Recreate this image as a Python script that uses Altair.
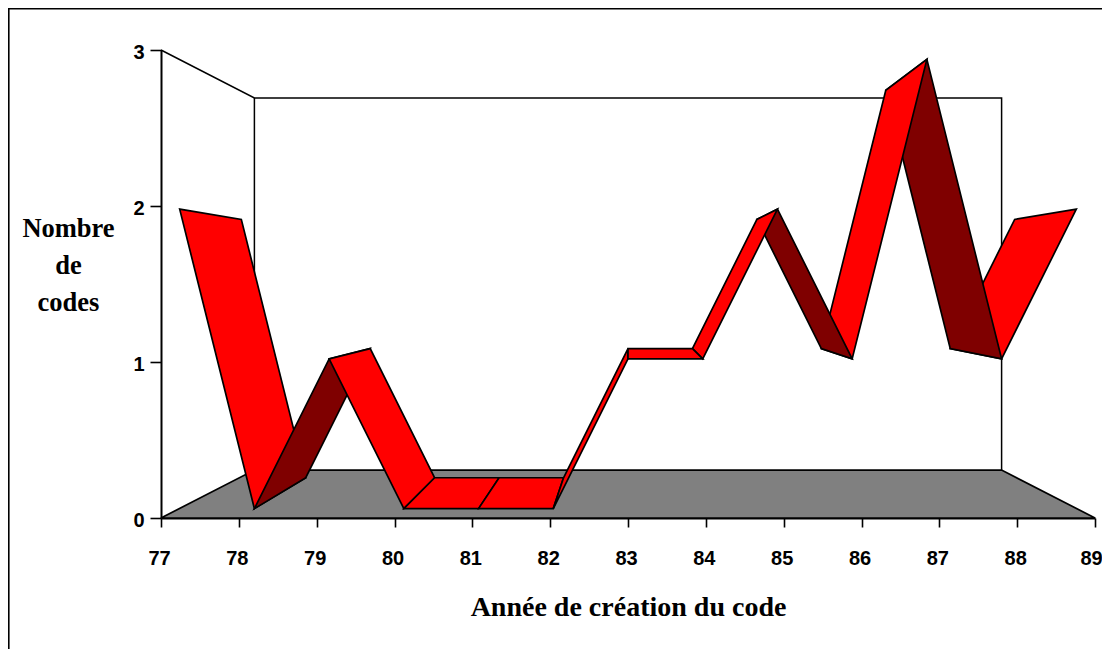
import altair as alt
import pandas as pd

years = list(range(77, 90))
codes = [2, 0, 1, 0, 0, 0, 1, 1, 2, 1, 3, 1, 2]
dark_faces = [1, 8, 10]          # segments showing the ribbon's underside
paint_order = [0, 1, 2, 3, 4, 5, 11, 10, 9, 8, 7, 6]   # outermost segments first

# oblique view of the 3-D chart
CX, CY = 83.0, 1.5
S_FRONT, S_BACK, S_WALL_X, S_WALL_Y = 0.96, 0.828, 0.80, 0.795


def proj(year, value, s, sy=None):
    return CX + (year - CX) * s, CY + (value - CY) * (s if sy is None else sy)


def poly(points):
    return pd.DataFrame([{"x": p[0], "y": p[1], "k": i} for i, p in enumerate(points)])


X = alt.X("x:Q", scale=alt.Scale(domain=[77, 89], nice=False, zero=False),
          axis=alt.Axis(values=years, format="d", title="Année de création du code",
                        domainWidth=2, domainColor="black", tickColor="black", tickWidth=1.6,
                        tickSize=9, labelFont="Liberation Sans", labelFontWeight="bold",
                        labelFontSize=20, labelColor="black", labelPadding=21,
                        labelOffset={"condition": {"test": "datum.value == 89", "value": -4}, "value": -2},
                        labelOverlap=False, labelFlush=False, labelBound=False,
                        grid=False, titleFont="Liberation Serif", titleFontWeight="bold",
                        titleFontSize=28, titleColor="black", titleY=97,
                        titleBaseline="alphabetic"))
Y = alt.Y("y:Q", scale=alt.Scale(domain=[0, 3], nice=False, zero=False),
          axis=alt.Axis(values=[0, 1, 2, 3], format="d",
                        title=["Nombre", "de", "codes"], titleAngle=0, titleAlign="center",
                        titleBaseline="alphabetic", titleX=-93, titleY=186, titleLineHeight=37,
                        domainWidth=2, domainColor="black", tickColor="black", tickWidth=1.6,
                        tickSize=11, labelFont="Liberation Sans", labelFontWeight="bold",
                        labelFontSize=20, labelColor="black", labelPadding=6, labelOffset=2.5,
                        labelFlush=False, labelBound=False,
                        grid=False, titleFont="Liberation Serif", titleFontWeight="bold",
                        titleFontSize=26.5, titleColor="black"))
ORDER = alt.Order("k:Q")


def face(points, fill):
    return alt.Chart(poly(points)).mark_line(
        filled=True, fill=fill, stroke="black", strokeWidth=1.7,
        interpolate="linear-closed", strokeJoin="miter",
    ).encode(x=X, y=Y, order=ORDER)


def path(points, width=1.5):
    return alt.Chart(poly(points)).mark_line(
        color="black", strokeWidth=width, strokeJoin="miter",
    ).encode(x=X, y=Y, order=ORDER)


y0, y1 = years[0], years[-1]
walls = [
    path([(y0, 3), proj(y0, 3, S_WALL_X, S_WALL_Y), proj(y1, 3, S_WALL_X, S_WALL_Y), proj(y1, 0, S_WALL_X, S_WALL_Y)]),
    path([proj(y0, 3, S_WALL_X, S_WALL_Y), proj(y0, 0, S_WALL_X, S_WALL_Y)]),
]
floor = face([(y0, 0), proj(y0, 0, S_WALL_X, S_WALL_Y), proj(y1, 0, S_WALL_X, S_WALL_Y), (y1, 0)], "#808080")


def ribbon(i):
    return face([
        proj(years[i], codes[i], S_FRONT),
        proj(years[i + 1], codes[i + 1], S_FRONT),
        proj(years[i + 1], codes[i + 1], S_BACK),
        proj(years[i], codes[i], S_BACK),
    ], "#7f0000" if i in dark_faces else "#ff0000")


faces = [ribbon(i) for i in paint_order]

PAD_L, PAD_T, W, H = 153, 42, 934, 468
PAD_R, PAD_B = 7, 131
frame_src = pd.DataFrame({"a": [0]})
frame_top = alt.Chart(frame_src).mark_rule(color="black", strokeWidth=1.7).encode(
    x=alt.value(-PAD_L), x2=alt.value(W + PAD_R), y=alt.value(-PAD_T + 0.75))
frame_left = alt.Chart(frame_src).mark_rule(color="black", strokeWidth=1.7).encode(
    x=alt.value(-PAD_L + 0.75), y=alt.value(-PAD_T), y2=alt.value(H + PAD_B))

chart = alt.layer(frame_top, frame_left, *walls, floor, *faces).properties(
    width=W, height=H,
    autosize=alt.AutoSizeParams(type="none"),
    padding={"left": PAD_L, "top": PAD_T, "right": PAD_R, "bottom": PAD_B},
    background="white",
).configure_view(stroke=None)

chart.save("out.html", embed_options={"renderer": "svg", "actions": False})
